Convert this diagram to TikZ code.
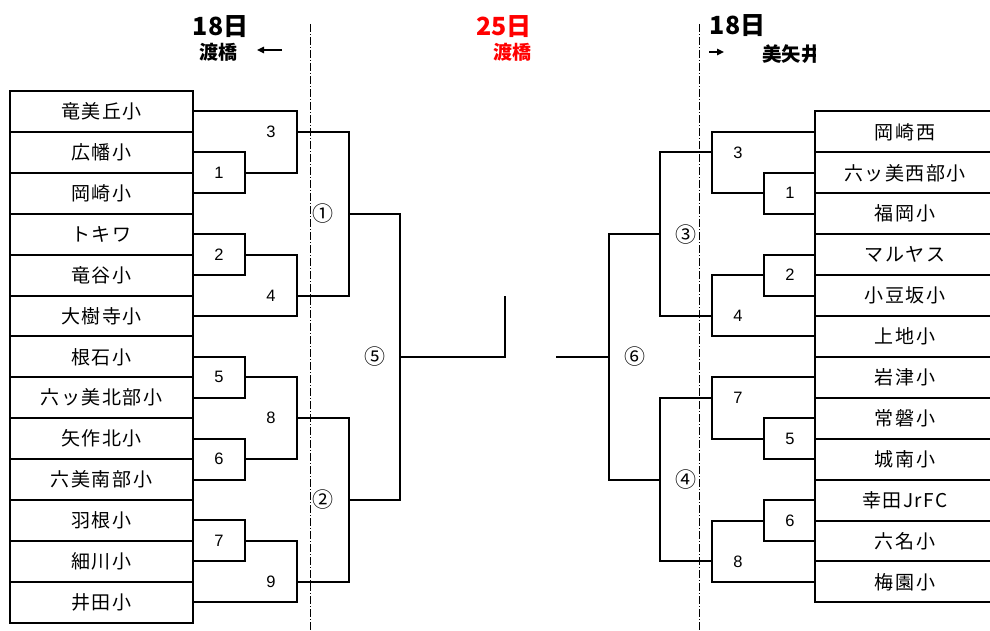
\documentclass[tikz,border=0pt]{standalone}
\usepackage{fontspec}
\setmainfont{Liberation Sans}
\newfontfamily\cjk{Noto Sans CJK JP}
\newfontfamily\cjkteam{Noto Sans CJK JP}[LetterSpace=8]
\usetikzlibrary{arrows.meta}
\begin{document}
\begin{tikzpicture}[x=1pt,y=-1pt,
 team/.style={draw,line width=2pt,minimum width=183pt,minimum height=40.9pt,inner sep=0pt,font=\cjkteam\fontsize{19}{19}\selectfont},
 rteam/.style={team,minimum width=180pt},
 br/.style={line width=2pt},
 num/.style={font=\fontsize{16.5}{16.5}\selectfont,inner sep=0pt},
 cnum/.style={font=\cjk\fontsize{21}{21}\selectfont,inner sep=0pt},
 sepline/.style={line width=0.9pt,dash pattern=on 8pt off 2pt on 1pt off 2pt},
 day/.style={font=\cjk\bfseries\fontsize{25}{25}\selectfont,inner sep=0pt},
 place/.style={font=\cjk\bfseries\fontsize{19}{19}\selectfont,inner sep=0pt},
 place2/.style={font=\cjk\bfseries\fontsize{19.5}{19.5}\selectfont,inner sep=0pt},
 arr/.style={line width=1.4pt,-{Triangle[length=7pt,width=6.5pt]}}
]
\clip (0,0) rectangle (990,631);
% separators
\coordinate (s1a) at (310,24); \coordinate (s1b) at (310,631);
\coordinate (s2a) at (699,24); \coordinate (s2b) at (699,631);
\draw[sepline] (s1a) -- (s1b);
\draw[sepline] (s2a) -- (s2b);
% headers
\node[day] (d1) at (220.5,26.5) {18日};
\node[place] (p1) at (218,52) {渡橋};
\coordinate (a1s) at (282,50); \coordinate (a1e) at (257,50);
\draw[arr] (a1s) -- (a1e);
\node[day,red] (d2) at (504,26.5) {25日};
\node[place,red] (p2) at (512.5,52) {渡橋};
\node[day] (d3) at (737.5,26) {18日};
\coordinate (a2s) at (709,52); \coordinate (a2e) at (724,52);
\draw[arr] (a2s) -- (a2e);
\begin{scope}
\clip (740,35) rectangle (815,70);
\node[place2,anchor=west] (p3) at (762,54) {美矢井};
\end{scope}
% left teams
\node[team] (L0) at (101.5,111.45) {竜美丘小};
\node[team] (L1) at (101.5,152.35) {広幡小};
\node[team] (L2) at (101.5,193.25) {岡崎小};
\node[team] (L3) at (101.5,234.15) {トキワ};
\node[team] (L4) at (101.5,275.05) {竜谷小};
\node[team] (L5) at (101.5,315.95) {大樹寺小};
\node[team] (L6) at (101.5,356.85) {根石小};
\node[team] (L7) at (101.5,397.75) {六ッ美北部小};
\node[team] (L8) at (101.5,438.65) {矢作北小};
\node[team] (L9) at (101.5,479.55) {六美南部小};
\node[team] (L10) at (101.5,520.45) {羽根小};
\node[team] (L11) at (101.5,561.35) {細川小};
\node[team] (L12) at (101.5,602.25) {井田小};
% right teams
\node[rteam] (R0) at (905,131.95) {岡崎西};
\node[rteam] (R1) at (905,172.85) {六ッ美西部小};
\node[rteam] (R2) at (905,213.75) {福岡小};
\node[rteam] (R3) at (905,254.65) {マルヤス};
\node[rteam] (R4) at (905,295.55) {小豆坂小};
\node[rteam] (R5) at (905,336.45) {上地小};
\node[rteam] (R6) at (905,377.35) {岩津小};
\node[rteam] (R7) at (905,418.25) {常磐小};
\node[rteam] (R8) at (905,459.15) {城南小};
\node[rteam] (R9) at (905,500.05) {幸田JrFC};
\node[rteam] (R10) at (905,540.95) {六名小};
\node[rteam] (R11) at (905,581.85) {梅園小};
% left bracket points
\coordinate (m1) at (245,172.8);
\coordinate (m2) at (245,254.6);
\coordinate (m3) at (297,131.9);
\coordinate (m4) at (297,295.5);
\coordinate (c1) at (349,213.7);
\coordinate (m5) at (245,377.3);
\coordinate (m6) at (245,459.1);
\coordinate (m8) at (297,418.2);
\coordinate (m7) at (245,541);
\coordinate (m9) at (297,581.8);
\coordinate (c2) at (349,500);
\coordinate (c5) at (400,356.85);
\coordinate (fl) at (505,295.7);
\draw[br] (L1.east) -| (m1) |- (L2.east);
\draw[br] (L0.east) -| (m3) |- (m1);
\draw[br] (L3.east) -| (m2) |- (L4.east);
\draw[br] (m2) -| (m4) |- (L5.east);
\draw[br] (m3) -| (c1) |- (m4);
\draw[br] (L6.east) -| (m5) |- (L7.east);
\draw[br] (L8.east) -| (m6) |- (L9.east);
\draw[br] (m5) -| (m8) |- (m6);
\draw[br] (L10.east) -| (m7) |- (L11.east);
\draw[br] (m7) -| (m9) |- (L12.east);
\draw[br] (m8) -| (c2) |- (m9);
\draw[br] (c1) -| (c5) |- (c2);
\draw[br] (c5) -| (fl);
% right bracket points
\coordinate (r1) at (764,193.3);
\coordinate (r3) at (711.7,152.4);
\coordinate (r2) at (764,275.1);
\coordinate (r4) at (711.7,316);
\coordinate (c3) at (660,234.2);
\coordinate (r5) at (764,438.7);
\coordinate (r7) at (711.7,397.8);
\coordinate (r6) at (764,520.5);
\coordinate (r8) at (711.7,561.4);
\coordinate (c4) at (660,479.6);
\coordinate (c6) at (609,356.9);
\coordinate (fr) at (556,356.9);
\draw[br] (R1.west) -| (r1) |- (R2.west);
\draw[br] (R0.west) -| (r3) |- (r1);
\draw[br] (R3.west) -| (r2) |- (R4.west);
\draw[br] (r2) -| (r4) |- (R5.west);
\draw[br] (r3) -| (c3) |- (r4);
\draw[br] (R7.west) -| (r5) |- (R8.west);
\draw[br] (R6.west) -| (r7) |- (r5);
\draw[br] (R9.west) -| (r6) |- (R10.west);
\draw[br] (r6) -| (r8) |- (R11.west);
\draw[br] (r7) -| (c4) |- (r8);
\draw[br] (c3) -| (c6) |- (c4);
\draw[br] (c6) -- (fr);
% left labels
\node[num] (l1) at (219,172.8) {1};
\node[num] (l3) at (271,131.9) {3};
\node[num] (l2) at (219,254.6) {2};
\node[num] (l4) at (271,295.5) {4};
\node[cnum] (lc1) at (323,213.7) {①};
\node[num] (l5) at (219,377.3) {5};
\node[num] (l6) at (219,459.1) {6};
\node[num] (l8) at (271,418.2) {8};
\node[num] (l7) at (219,541) {7};
\node[num] (l9) at (271,581.8) {9};
\node[cnum] (lc2) at (323,500) {②};
\node[cnum] (lc5) at (375,356.85) {⑤};
% right labels
\node[num] (k3) at (738,152.4) {3};
\node[num] (k1) at (790,193.3) {1};
\node[num] (k2) at (790,275.1) {2};
\node[num] (k4) at (738,316) {4};
\node[cnum] (kc3) at (686,234.2) {③};
\node[num] (k7) at (738,397.8) {7};
\node[num] (k5) at (790,438.7) {5};
\node[num] (k6) at (790,520.5) {6};
\node[num] (k8) at (738,561.4) {8};
\node[cnum] (kc4) at (686,479.6) {④};
\node[cnum] (kc6) at (634.5,356.9) {⑥};
\end{tikzpicture}
\end{document}
